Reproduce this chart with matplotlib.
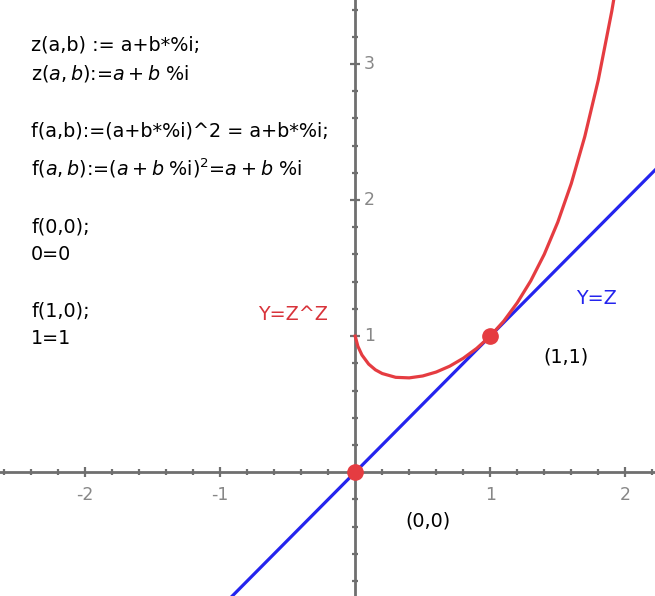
import matplotlib.pyplot as plt
import matplotlib.ticker as ticker

plt.rcParams["font.family"] = ["DejaVu Sans"]
plt.rcParams["mathtext.fontset"] = "dejavusans"

# y = z^z
CURVE_X = [0.0, 0.02, 0.05, 0.1, 0.15, 0.2, 0.3, 0.4, 0.5, 0.6, 0.7, 0.8, 0.9, 1.0,
           1.1, 1.2, 1.3, 1.4, 1.5, 1.6, 1.7, 1.8, 1.9, 1.95]
CURVE_Y = [1.0, 0.925, 0.861, 0.794, 0.752, 0.725, 0.697, 0.693, 0.707, 0.736, 0.779,
           0.837, 0.910, 1.0, 1.11, 1.245, 1.406, 1.601, 1.837, 2.121, 2.466, 2.882,
           3.388, 3.68]
# y = z
LINE_X = [-1.0, 2.3]
LINE_Y = [-1.0, 2.3]
POINTS_X = [0, 1]
POINTS_Y = [0, 1]
XTICKS = [-2, -1, 1, 2]
YTICKS = [1, 2, 3]

RED = "#e53c41"
BLUE = "#2424ee"
AXIS = "#6f6f6f"
TICKLBL = "#878787"

fig = plt.figure(figsize=(6.55, 5.96), dpi=100)
ax = fig.add_axes([0, 0, 1, 1])
ax.set_xlim(-2.63, 2.22)
ax.set_ylim(-0.91, 3.47)

for side in ["top", "right"]:
    ax.spines[side].set_visible(False)
for side in ["left", "bottom"]:
    ax.spines[side].set_position("zero")
    ax.spines[side].set_color(AXIS)
    ax.spines[side].set_linewidth(2)

ax.xaxis.set_major_locator(ticker.MultipleLocator(1))
ax.xaxis.set_minor_locator(ticker.MultipleLocator(0.2))
ax.yaxis.set_major_locator(ticker.MultipleLocator(1))
ax.yaxis.set_minor_locator(ticker.MultipleLocator(0.2))
ax.tick_params(which="major", direction="inout", length=7, width=1.6, color=AXIS,
               labelbottom=False, labelleft=False)
ax.tick_params(which="minor", direction="inout", length=4.5, width=1.6, color=AXIS)

for x in XTICKS:
    ax.text(x, -0.17, str(x), ha="center", va="center", fontsize=12.5, color=TICKLBL)
for y in YTICKS:
    ax.text(0.065, y, str(y), ha="left", va="center", fontsize=12.5, color=TICKLBL)

ax.plot(LINE_X, LINE_Y, color=BLUE, lw=2.3, zorder=3)
ax.plot(CURVE_X, CURVE_Y, color=RED, lw=2.3, zorder=4)
ax.plot(POINTS_X, POINTS_Y, "o", color=RED, ms=11, zorder=5)

tr = ax.transAxes
fs = 13.8
x0 = 31 / 655
ax.text(x0, 1 - 45 / 596, "z(a,b) := a+b*%i;", transform=tr, fontsize=fs, va="center")
ax.text(x0, 1 - 73 / 596, r"z$\left(a,b\right)$:=$a+b$ %i",
        transform=tr, fontsize=fs, va="center")
ax.text(x0, 1 - 131 / 596, "f(a,b):=(a+b*%i)^2 = a+b*%i;", transform=tr,
        fontsize=fs, va="center")
ax.text(x0, 1 - 168 / 596,
        r"f$\left(a,b\right)$:=$\left(a+b\;\mathrm{\%i}\right)^2$=$a+b$ %i",
        transform=tr, fontsize=fs, va="center")
ax.text(x0, 1 - 227 / 596, "f(0,0);", transform=tr, fontsize=fs, va="center")
ax.text(x0, 1 - 255 / 596, "0=0", transform=tr, fontsize=fs, va="center")
ax.text(x0, 1 - 311 / 596, "f(1,0);", transform=tr, fontsize=fs, va="center")
ax.text(x0, 1 - 339 / 596, "1=1", transform=tr, fontsize=fs, va="center")

ax.text(258 / 655, 1 - 315 / 596, "Y=Z^Z", transform=tr, fontsize=fs, va="center",
        color="#d8333a")
ax.text(576 / 655, 1 - 299 / 596, "Y=Z", transform=tr, fontsize=fs, va="center",
        color=BLUE)
ax.text(543 / 655, 1 - 357 / 596, "(1,1)", transform=tr, fontsize=fs, va="center")
ax.text(405 / 655, 1 - 521 / 596, "(0,0)", transform=tr, fontsize=fs, va="center")

fig.savefig("out.png", dpi=100)
